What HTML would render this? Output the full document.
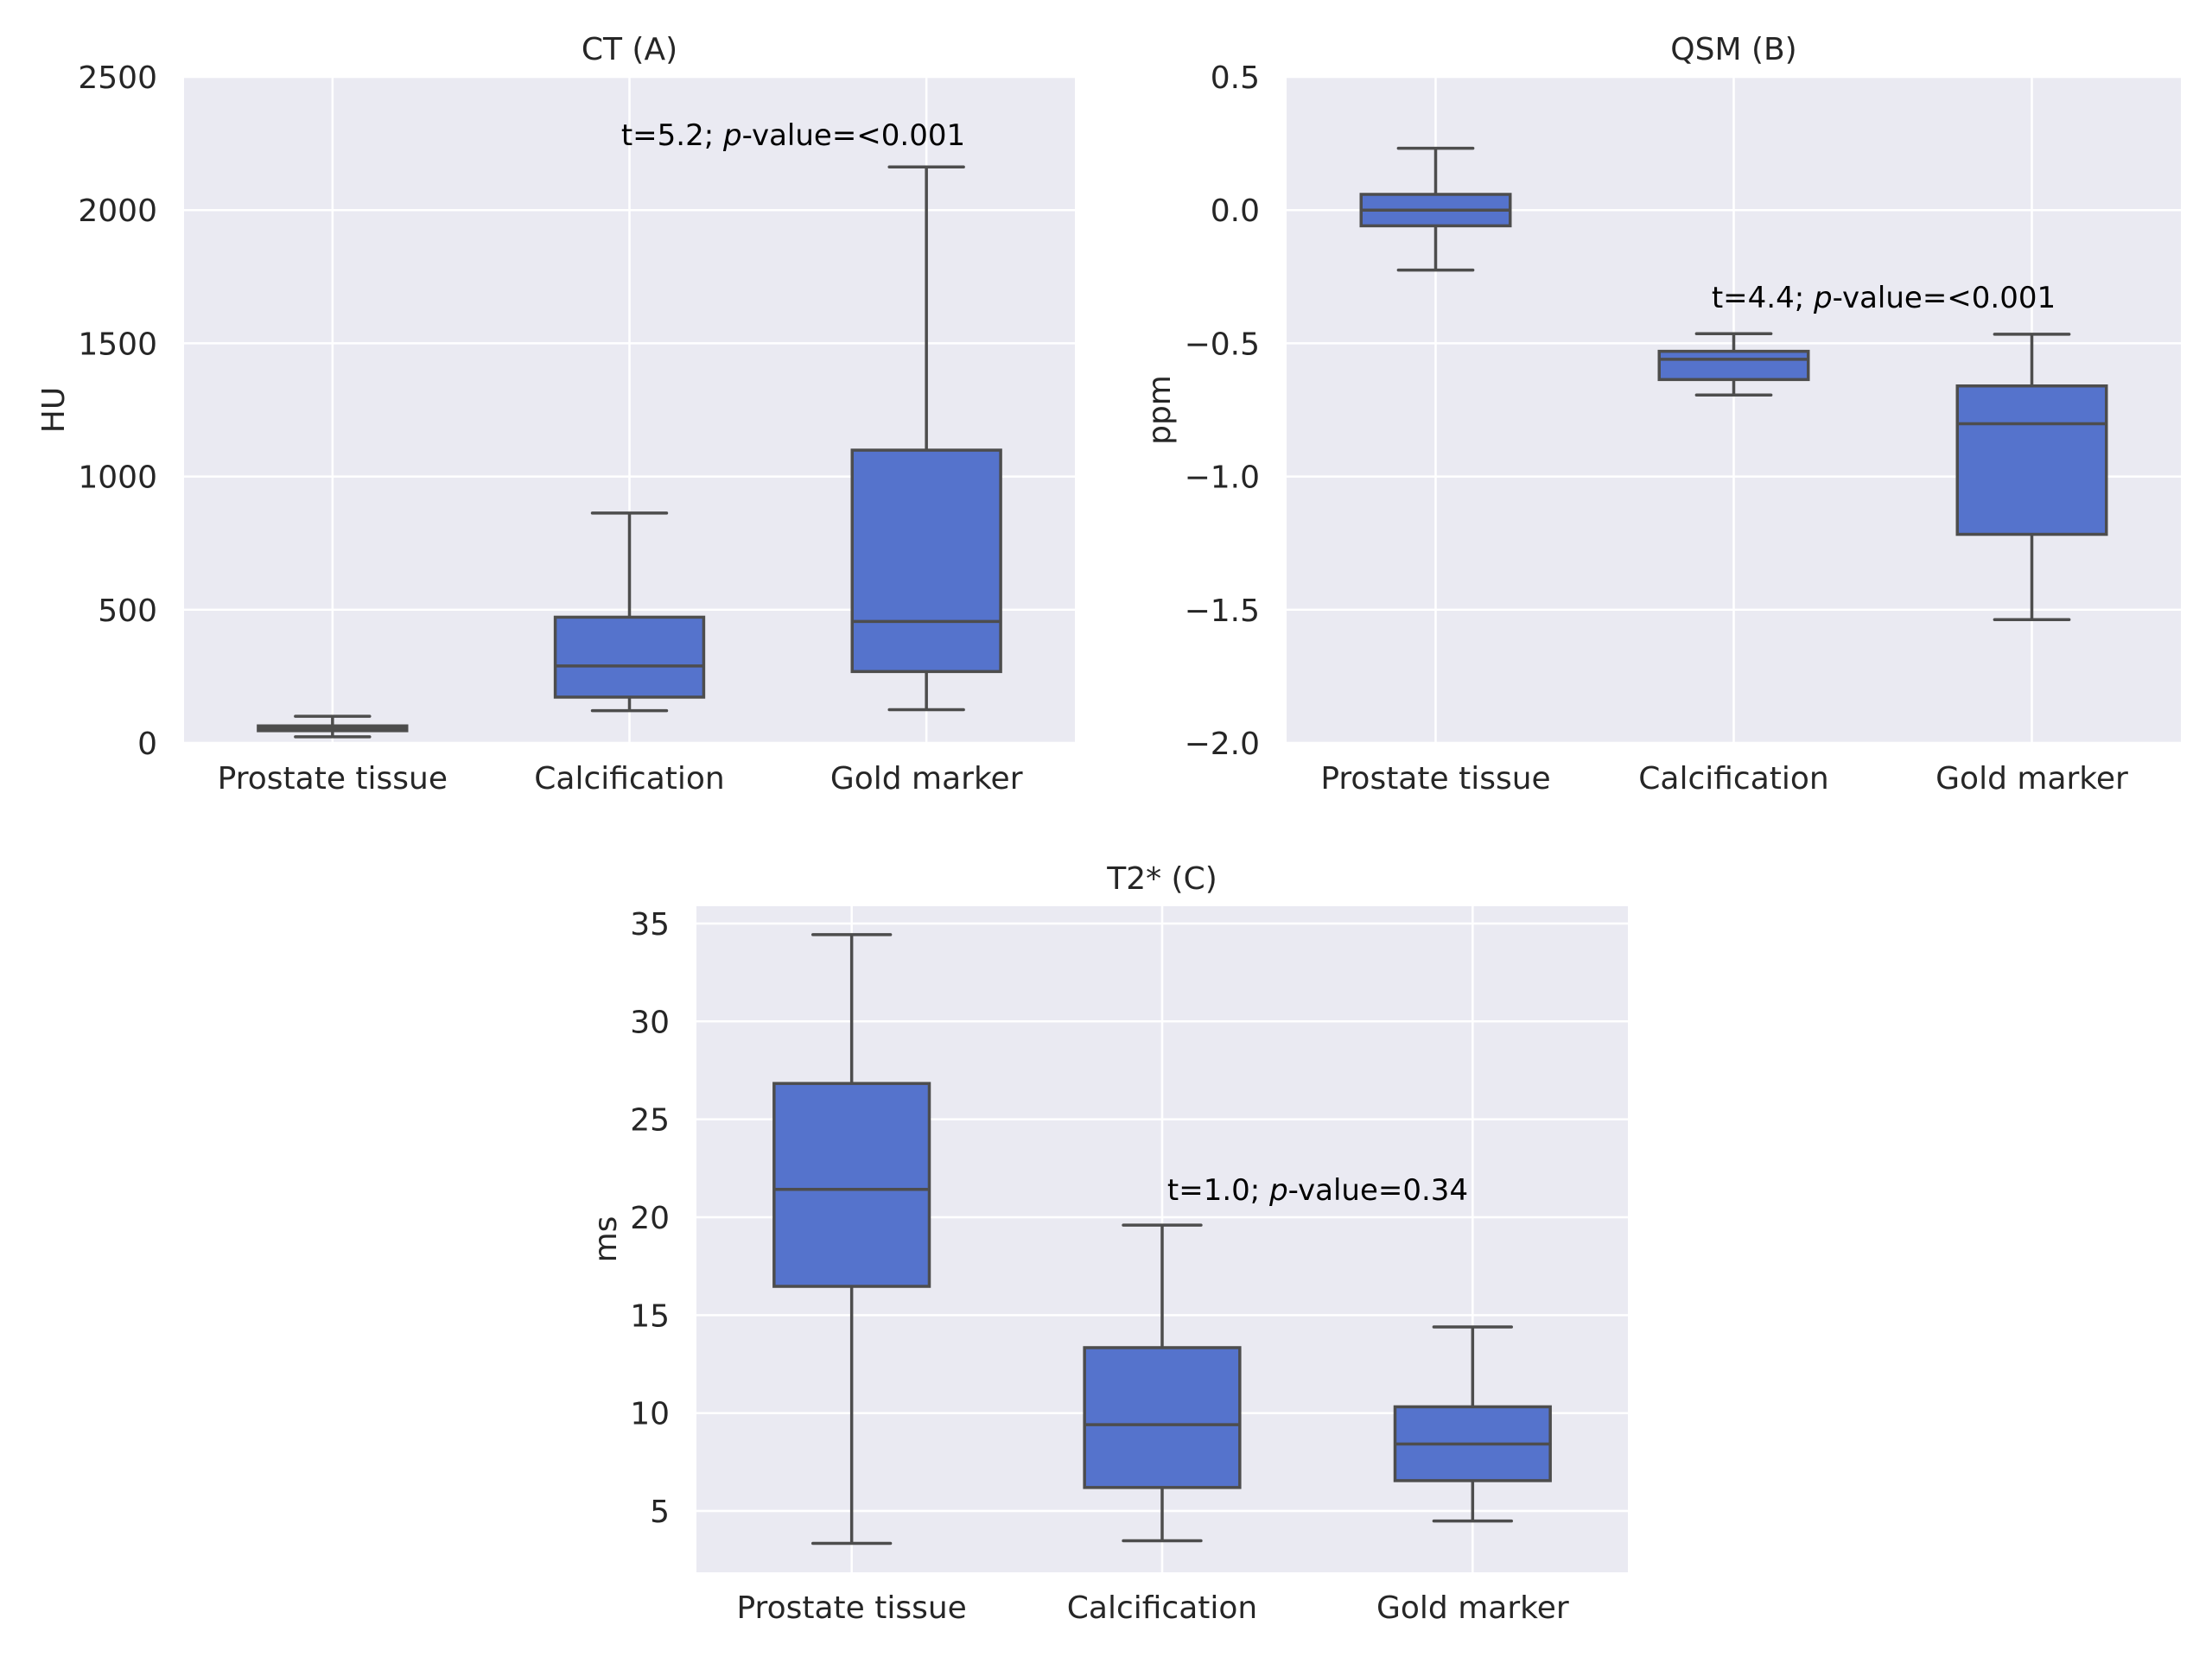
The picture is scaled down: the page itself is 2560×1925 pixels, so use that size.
<!DOCTYPE html>
<html><head><meta charset="utf-8"><style>
html,body{margin:0;padding:0;background:#fff;}
svg text{font-family:"DejaVu Sans","Liberation Sans",sans-serif;}
</style></head><body>
<svg id="fig" width="2560" height="1920" viewBox="0 0 2560 1920" xmlns="http://www.w3.org/2000/svg"></svg>
<script>
const categories = ["Prostate tissue","Calcification","Gold marker"];
// [whiskerLow, q1, median, q3, whiskerHigh]
const ctValues = [[23,46,55,64,100],[121,172,289,472,863],[125,268,456,1099,2162]];
const qsmValues = [[-0.225,-0.059,0.0,0.059,0.232],[-0.694,-0.636,-0.560,-0.530,-0.464],[-1.537,-1.217,-0.802,-0.660,-0.466]];
const t2Values = [[3.35,16.47,21.42,26.83,34.43],[3.48,6.2,9.41,13.34,19.6],[4.49,6.55,8.42,10.32,14.4]];
const ctTicks = [0,500,1000,1500,2000,2500];
const ctTickLabels = ["0","500","1000","1500","2000","2500"];
const qsmTicks = [-2.0,-1.5,-1.0,-0.5,0.0,0.5];
const qsmTickLabels = ["\u22122.0","\u22121.5","\u22121.0","\u22120.5","0.0","0.5"];
const t2Ticks = [5,10,15,20,25,30,35];
const t2TickLabels = ["5","10","15","20","25","30","35"];

const NS="http://www.w3.org/2000/svg";
const svg=document.getElementById('fig');
function mk(tag,attrs,parent,text){const e=document.createElementNS(NS,tag);for(const k in attrs)e.setAttribute(k,attrs[k]);if(text!==undefined)e.textContent=text;(parent||svg).appendChild(e);return e;}

function panel(cfg){
  const g=mk('g',{});
  
  
  const {L,R,T,B,ymin,ymax}=cfg;
  const y=v=>B-(v-ymin)/(ymax-ymin)*(B-T);
  const step=(R-L)/categories.length;
  const x=i=>L+step*(i+0.5);
  const bg=mk('rect',{x:L,y:T,width:R-L,height:B-T,fill:'#eaeaf2'},g);
  
  
  cfg.ticks.forEach((t,i)=>{
    const gl=mk('line',{x1:L,x2:R,y1:y(t),y2:y(t),stroke:'#fff','stroke-width':2.5},g);
    
    
    const tl=mk('text',{x:L-31,y:y(t)+13,'text-anchor':'end','font-size':36,fill:'#262626'},g,cfg.tickLabels[i]);
    
    
  });
  categories.forEach((c,i)=>{
    const gl=mk('line',{x1:x(i),x2:x(i),y1:T,y2:B,stroke:'#fff','stroke-width':2.5},g);
    
    
    const tl=mk('text',{x:x(i),y:B+53,'text-anchor':'middle','font-size':36,fill:'#262626'},g,c);
    
    
  });
  const bw=step*0.5, cw=bw*0.5, col='#4d4d4d';
  cfg.values.forEach((v,i)=>{
    const bg2=mk('g',{},g);
    
    
    const cx=x(i);
    mk('line',{x1:cx,x2:cx,y1:y(v[0]),y2:y(v[1]),stroke:col,'stroke-width':3.5},bg2);
    mk('line',{x1:cx,x2:cx,y1:y(v[3]),y2:y(v[4]),stroke:col,'stroke-width':3.5},bg2);
    mk('line',{x1:cx-cw/2,x2:cx+cw/2,y1:y(v[0]),y2:y(v[0]),stroke:col,'stroke-width':3.5,'stroke-linecap':'round'},bg2);
    mk('line',{x1:cx-cw/2,x2:cx+cw/2,y1:y(v[4]),y2:y(v[4]),stroke:col,'stroke-width':3.5,'stroke-linecap':'round'},bg2);
    mk('rect',{x:cx-bw/2,y:y(v[3]),width:bw,height:Math.max(0,y(v[1])-y(v[3])),fill:'#5573cc',stroke:col,'stroke-width':3.5},bg2);
    mk('line',{x1:cx-bw/2,x2:cx+bw/2,y1:y(v[2]),y2:y(v[2]),stroke:col,'stroke-width':3.5},bg2);
  });
  const tt=mk('text',{x:(L+R)/2,y:T-20,'text-anchor':'middle','font-size':36,fill:'#262626'},g,cfg.title);
  
  
  const yl=mk('text',{x:cfg.ylx,y:(T+B)/2,'text-anchor':'middle','font-size':36,fill:'#262626',transform:`rotate(-90 ${cfg.ylx} ${(T+B)/2})`},g,cfg.ylabel);
  
  
  const an=mk('text',{x:cfg.ax,y:cfg.ay,'text-anchor':'middle','font-size':34,fill:'#000'},g);
  
  
  mk('tspan',{},an,cfg.ann[0]);
  mk('tspan',{'font-style':'italic'},an,'p');
  mk('tspan',{},an,cfg.ann[1]);
}

panel({name:'ct-panel',L:213,R:1244,T:89,B:860,ymin:0,ymax:2500,ticks:ctTicks,tickLabels:ctTickLabels,values:ctValues,title:'CT (A)',ylabel:'HU',ylx:74,ax:918,ay:168,ann:['t=5.2; ','-value=<0.001']});
panel({name:'qsm-panel',L:1489,R:2524,T:89,B:860,ymin:-2.0,ymax:0.5,ticks:qsmTicks,tickLabels:qsmTickLabels,values:qsmValues,title:'QSM (B)',ylabel:'ppm',ylx:1354,ax:2180,ay:356,ann:['t=4.4; ','-value=<0.001']});
panel({name:'t2-panel',L:806,R:1884,T:1049,B:1820,ymin:1.87,ymax:35.88,ticks:t2Ticks,tickLabels:t2TickLabels,values:t2Values,title:'T2* (C)',ylabel:'ms',ylx:713,ax:1525,ay:1389,ann:['t=1.0; ','-value=0.34']});
</script>
</body></html>
